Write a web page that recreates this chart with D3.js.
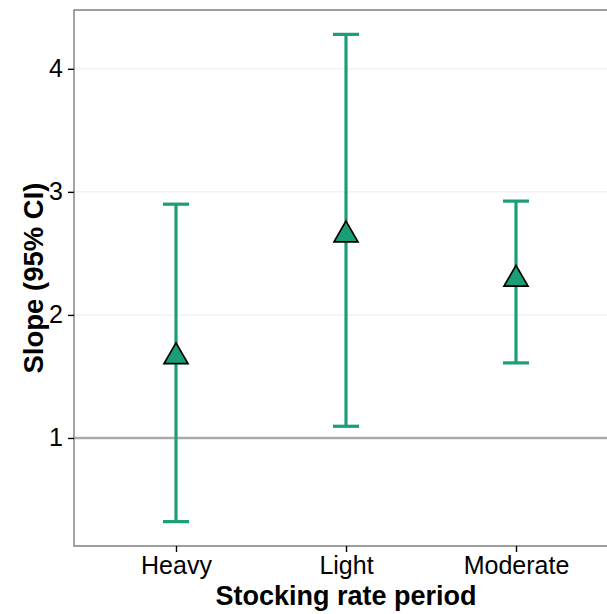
<!DOCTYPE html>
<html>
<head>
<meta charset="utf-8">
<script src="https://cdn.jsdelivr.net/npm/d3@7"></script>
<style>
  body { margin: 0; background: #fff; overflow: hidden; }
  svg { display: block; font-family: "Liberation Sans", Arial, sans-serif; }
</style>
</head>
<body>
<div id="chart"></div>
<script>
// données
const periods = ["Heavy", "Light", "Moderate"];
const slope = [1.66, 2.65, 2.29];
const lowerCI = [0.32, 1.095, 1.61];
const upperCI = [2.90, 4.28, 2.925];
const yTicks = [1, 2, 3, 4];
const refValue = [1];

const green = "#1b9e77";

const margin = { top: 10, right: -11, bottom: 68, left: 74 };
const W = 607, H = 614;
const width = W - margin.left - margin.right;
const height = H - margin.top - margin.bottom;

const data = periods.map((p, i) => ({ period: p, est: slope[i], lo: lowerCI[i], hi: upperCI[i] }));

const svg = d3.select("#chart").append("svg")
    .attr("width", W)
    .attr("height", H);

const g = svg.append("g")
    .attr("transform", "translate(" + margin.left + "," + margin.top + ")");

const x = d3.scalePoint()
    .domain(periods)
    .range([0, width])
    .padding(0.6);

const ymin = d3.min(lowerCI), ymax = d3.max(upperCI);
const pad = (ymax - ymin) * 0.05;
const y = d3.scaleLinear()
    .domain([ymin - pad, ymax + pad])
    .range([height, 0]);

// grille
g.selectAll(".grid")
    .data(yTicks)
    .enter().append("line")
    .attr("x1", 0).attr("x2", width)
    .attr("y1", d => y(d)).attr("y2", d => y(d))
    .attr("stroke", "#ebebeb")
    .attr("stroke-width", 1);

// ligne de référence
g.selectAll(".ref")
    .data(refValue)
    .enter().append("line")
    .attr("x1", 0).attr("x2", width)
    .attr("y1", d => y(d)).attr("y2", d => y(d))
    .attr("stroke", "#aaaaaa")
    .attr("stroke-width", 2.6);

// barres d'erreur
const capW = 13;
const eb = g.selectAll(".eb")
    .data(data)
    .enter().append("g")
    .attr("stroke", green)
    .attr("stroke-width", 3.2);

eb.append("line")
    .attr("x1", d => x(d.period)).attr("x2", d => x(d.period))
    .attr("y1", d => y(d.lo)).attr("y2", d => y(d.hi));
eb.append("line")
    .attr("x1", d => x(d.period) - capW).attr("x2", d => x(d.period) + capW)
    .attr("y1", d => y(d.lo)).attr("y2", d => y(d.lo));
eb.append("line")
    .attr("x1", d => x(d.period) - capW).attr("x2", d => x(d.period) + capW)
    .attr("y1", d => y(d.hi)).attr("y2", d => y(d.hi));

// points
g.selectAll(".pt")
    .data(data)
    .enter().append("path")
    .attr("d", d3.symbol().type(d3.symbolTriangle).size(250))
    .attr("transform", d => "translate(" + x(d.period) + "," + y(d.est) + ")")
    .attr("fill", green)
    .attr("stroke", "#000")
    .attr("stroke-width", 1.7)
    .attr("stroke-linejoin", "miter");

// cadre (le bord droit est hors champ)
g.append("path")
    .attr("d", "M" + width + ",0H0V" + height + "H" + width)
    .attr("fill", "none")
    .attr("stroke", "#7f7f7f")
    .attr("stroke-width", 1.4);

// axes
const yAxis = g.append("g")
    .call(d3.axisLeft(y).tickValues(yTicks).tickSize(6).tickPadding(5).tickFormat(d3.format("d")));
yAxis.select(".domain").remove();
yAxis.selectAll(".tick line").attr("stroke", "#000").attr("stroke-width", 1.4);
yAxis.selectAll("text").attr("font-size", 25).attr("fill", "#000").attr("font-family", "Liberation Sans, Arial, sans-serif");

const xAxis = g.append("g")
    .attr("transform", "translate(0," + height + ")")
    .call(d3.axisBottom(x).tickSize(6).tickPadding(4));
xAxis.select(".domain").remove();
xAxis.selectAll(".tick line").attr("stroke", "#000").attr("stroke-width", 1.4);
xAxis.selectAll("text").attr("font-size", 25).attr("fill", "#000").attr("font-family", "Liberation Sans, Arial, sans-serif");

// titres
svg.append("text")
    .attr("x", margin.left + width / 2)
    .attr("y", 605)
    .attr("text-anchor", "middle")
    .attr("font-size", 27)
    .attr("font-weight", "bold")
    .text("Stocking rate period");

svg.append("text")
    .attr("transform", "translate(43," + (margin.top + height / 2) + ") rotate(-90)")
    .attr("text-anchor", "middle")
    .attr("font-size", 27.5)
    .attr("font-weight", "bold")
    .text("Slope (95% CI)");
</script>
</body>
</html>
